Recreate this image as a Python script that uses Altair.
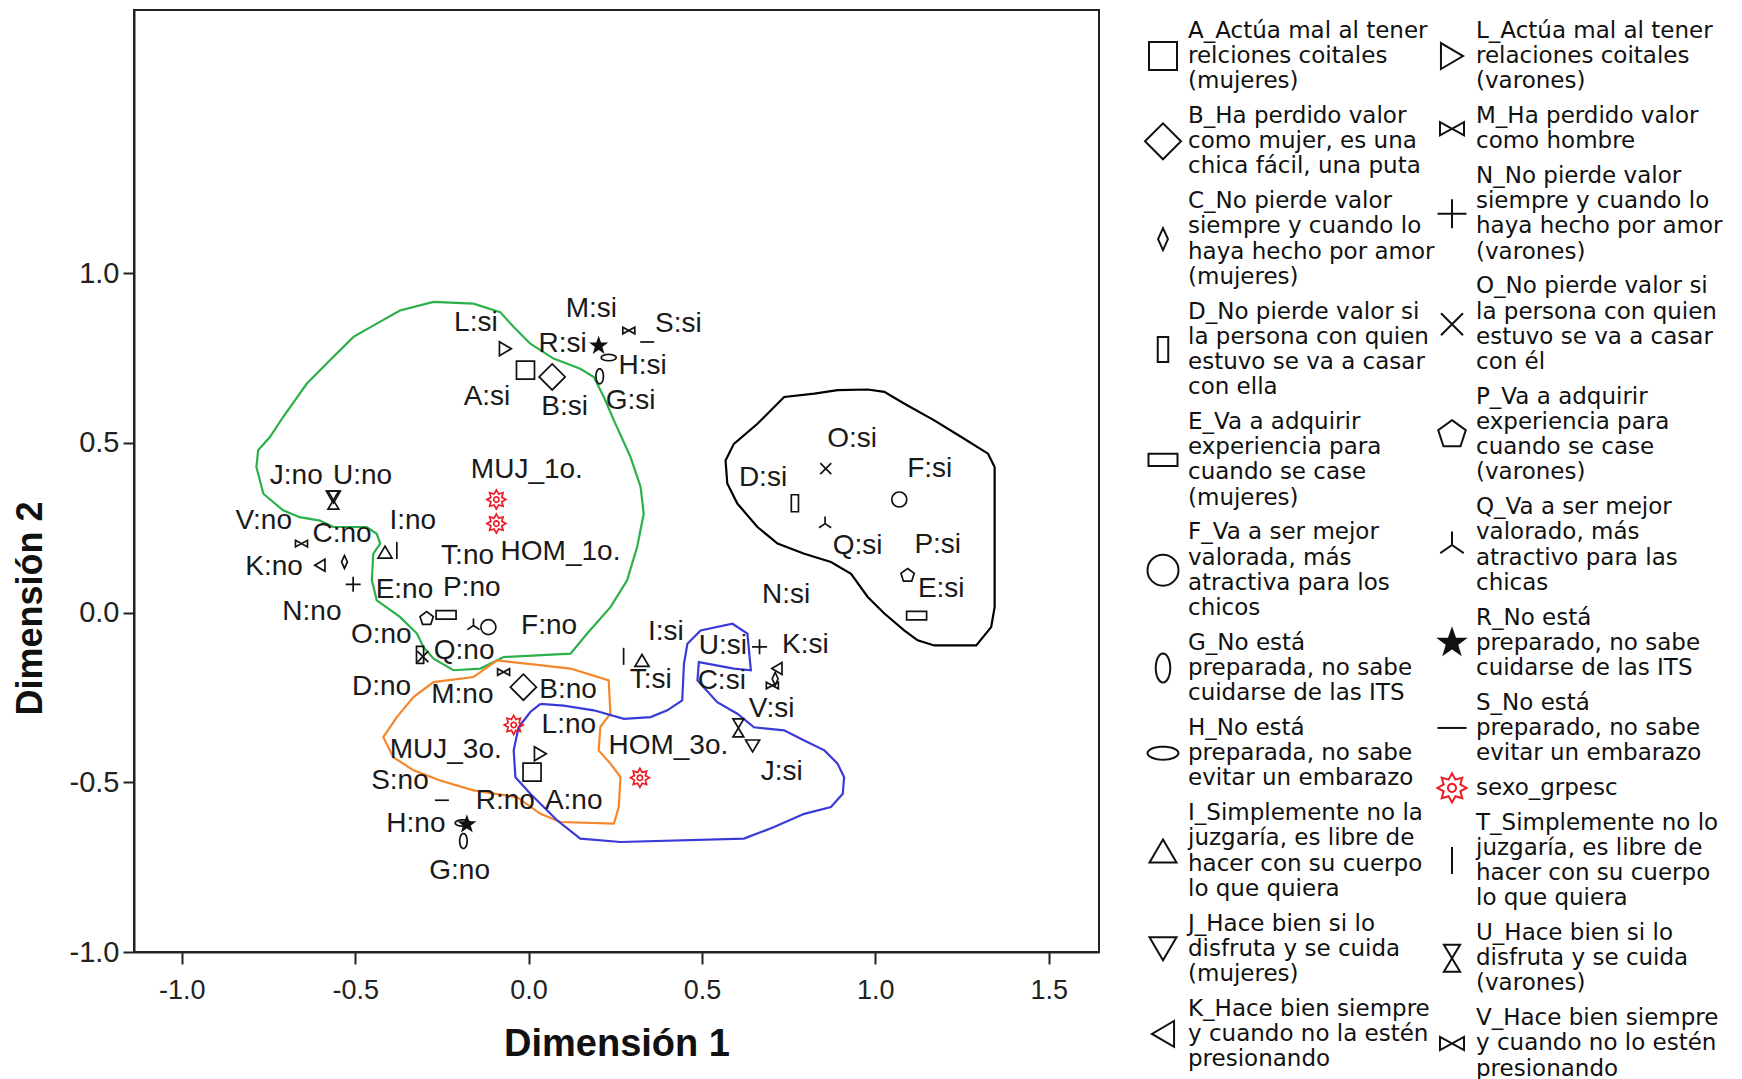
import math
import altair as alt
import pandas as pd

# ---------------- data ----------------
codes = ["A", "B", "C", "D", "E", "F", "G", "H", "I", "J", "K",
         "L", "M", "N", "O", "P", "Q", "R", "S", "T", "U", "V"]

si_x = [-0.009, 0.068, 0.711, 0.768, 1.119, 1.069, 0.205, 0.231, 0.327, 0.646, 0.716,
        -0.067, 0.289, 0.666, 0.857, 1.093, 0.855, 0.202, 0.342, 0.274, 0.605, 0.703]
si_y = [0.714, 0.694, -0.195, 0.322, -0.009, 0.333, 0.696, 0.751, -0.141, -0.393, -0.165,
        0.777, 0.831, -0.101, 0.424, 0.109, 0.262, 0.786, 0.797, -0.129, -0.340, -0.215]
no_x = [0.010, -0.015, -0.531, -0.313, -0.238, -0.116, -0.188, -0.190, -0.414, -0.563, -0.602,
        0.034, -0.072, -0.506, -0.305, -0.294, -0.159, -0.178, -0.250, -0.380, -0.563, -0.655]
no_y = [-0.470, -0.220, 0.149, -0.125, -0.007, -0.043, -0.673, -0.620, 0.178, 0.340, 0.139,
        -0.416, -0.175, 0.083, -0.130, -0.018, -0.038, -0.624, -0.553, 0.183, 0.331, 0.203]

si_lx = [-0.120, 0.104, 0.557, 0.676, 1.190, 1.157, 0.294, 0.329, 0.396, 0.730, 0.798,
         -0.152, 0.181, 0.743, 0.933, 1.180, 0.949, 0.098, 0.432, 0.352, 0.560, 0.701]
si_ly = [0.635, 0.606, -0.203, 0.396, 0.069, 0.422, 0.622, 0.727, -0.056, -0.471, -0.095,
         0.854, 0.894, 0.052, 0.511, 0.200, 0.196, 0.792, 0.851, -0.200, -0.098, -0.285]
no_lx = [0.130, 0.114, -0.538, -0.424, -0.358, 0.059, -0.199, -0.325, -0.334, -0.670, -0.734,
         0.116, -0.191, -0.625, -0.425, -0.164, -0.186, -0.067, -0.371, -0.176, -0.479, -0.764]
no_ly = [-0.556, -0.228, 0.232, -0.220, 0.065, -0.041, -0.760, -0.622, 0.270, 0.403, 0.134,
         -0.332, -0.243, 0.002, -0.066, 0.071, -0.114, -0.556, -0.497, 0.167, 0.403, 0.270]

grp_names = ["MUJ_1o.", "HOM_1o.", "MUJ_3o.", "HOM_3o."]
grp_x = [-0.093, -0.093, -0.043, 0.321]
grp_y = [0.333, 0.262, -0.331, -0.487]
grp_lx = [-0.005, 0.092, -0.239, 0.403]
grp_ly = [0.420, 0.177, -0.406, -0.393]

green_x = [-0.274, -0.159, -0.082, -0.043, 0.005, 0.072, 0.149, 0.188, 0.217, 0.246, 0.294, 0.323,
           0.332, 0.313, 0.284, 0.236, 0.169, 0.121, -0.072, -0.139, -0.217, -0.274, -0.303,
           -0.322, -0.371, -0.438, -0.452, -0.448, -0.428, -0.438, -0.467, -0.563, -0.602,
           -0.660, -0.708, -0.765, -0.785, -0.780, -0.746, -0.708, -0.640, -0.573, -0.505,
           -0.438, -0.371]
green_y = [0.915, 0.910, 0.885, 0.841, 0.792, 0.748, 0.718, 0.694, 0.635, 0.566, 0.458, 0.370,
           0.291, 0.193, 0.095, 0.016, -0.062, -0.121, -0.131, -0.165, -0.170, -0.136, -0.102,
           -0.062, -0.013, 0.036, 0.095, 0.173, 0.203, 0.232, 0.252, 0.252, 0.271,
           0.281, 0.301, 0.350, 0.429, 0.478, 0.517, 0.576, 0.674, 0.743, 0.812,
           0.851, 0.890]

orange_x = [-0.091, 0.121, 0.231, 0.236, 0.207, 0.202, 0.236, 0.265, 0.260, 0.246, 0.092, 0.034,
            -0.033, -0.159, -0.255, -0.332, -0.390, -0.419, -0.380, -0.332, -0.274, -0.159]
orange_y = [-0.141, -0.165, -0.200, -0.298, -0.337, -0.406, -0.445, -0.485, -0.573, -0.622,
            -0.617, -0.593, -0.544, -0.524, -0.495, -0.465, -0.426, -0.367, -0.308, -0.249,
            -0.205, -0.190]

blue_x = [0.034, 0.101, 0.188, 0.275, 0.352, 0.400, 0.443, 0.448, 0.458, 0.496, 0.588, 0.631,
          0.641, 0.592, 0.491, 0.487, 0.544, 0.602, 0.650, 0.737, 0.795, 0.853, 0.891, 0.910,
          0.906, 0.872, 0.795, 0.708, 0.621, 0.265, 0.149, 0.082, 0.005, -0.038, -0.043,
          -0.029, 0.005]
blue_y = [-0.269, -0.274, -0.288, -0.313, -0.308, -0.288, -0.259, -0.151, -0.092, -0.053, -0.033,
          -0.062, -0.170, -0.165, -0.146, -0.200, -0.264, -0.298, -0.338, -0.347, -0.377, -0.406,
          -0.445, -0.485, -0.534, -0.573, -0.593, -0.632, -0.666, -0.676, -0.666, -0.612,
          -0.534, -0.485, -0.406, -0.338, -0.293]

black_x = [0.824, 0.891, 0.978, 1.026, 1.084, 1.170, 1.248, 1.325, 1.344, 1.344, 1.334, 1.291,
           1.170, 1.122, 1.084, 1.026, 0.978, 0.930, 0.872, 0.795, 0.718, 0.660, 0.602, 0.573,
           0.568, 0.592, 0.660, 0.737]
black_y = [0.645, 0.655, 0.657, 0.650, 0.615, 0.566, 0.517, 0.468, 0.429, 0.016, -0.043, -0.097,
           -0.097, -0.082, -0.053, -0.003, 0.046, 0.114, 0.149, 0.173, 0.203, 0.252, 0.321, 0.380,
           0.448, 0.497, 0.556, 0.635]

legend_left = [
    ("A", ["A_Actúa mal al tener", "relciones coitales", "(mujeres)"]),
    ("B", ["B_Ha perdido valor", "como mujer, es una", "chica fácil, una puta"]),
    ("C", ["C_No pierde valor", "siempre y cuando lo", "haya hecho por amor", "(mujeres)"]),
    ("D", ["D_No pierde valor si", "la persona con quien", "estuvo se va a casar", "con ella"]),
    ("E", ["E_Va a adquirir", "experiencia para", "cuando se case", "(mujeres)"]),
    ("F", ["F_Va a ser mejor", "valorada, más", "atractiva para los", "chicos"]),
    ("G", ["G_No está", "preparada, no sabe", "cuidarse de las ITS"]),
    ("H", ["H_No está", "preparada, no sabe", "evitar un embarazo"]),
    ("I", ["I_Simplemente no la", "juzgaría, es libre de", "hacer con su cuerpo", "lo que quiera"]),
    ("J", ["J_Hace bien si lo", "disfruta y se cuida", "(mujeres)"]),
    ("K", ["K_Hace bien siempre", "y cuando no la estén", "presionando"]),
]
legend_right = [
    ("L", ["L_Actúa mal al tener", "relaciones coitales", "(varones)"]),
    ("M", ["M_Ha perdido valor", "como hombre"]),
    ("N", ["N_No pierde valor", "siempre y cuando lo", "haya hecho por amor", "(varones)"]),
    ("O", ["O_No pierde valor si", "la persona con quien", "estuvo se va a casar", "con él"]),
    ("P", ["P_Va a adquirir", "experiencia para", "cuando se case", "(varones)"]),
    ("Q", ["Q_Va a ser mejor", "valorado, más", "atractivo para las", "chicas"]),
    ("R", ["R_No está", "preparado, no sabe", "cuidarse de las ITS"]),
    ("S", ["S_No está", "preparado, no sabe", "evitar un embarazo"]),
    ("grp", ["sexo_grpesc"]),
    ("T", ["T_Simplemente no lo", "juzgaría, es libre de", "hacer con su cuerpo", "lo que quiera"]),
    ("U", ["U_Hace bien si lo", "disfruta y se cuida", "(varones)"]),
    ("V", ["V_Hace bien siempre", "y cuando no lo estén", "presionando"]),
]

# ---------------- symbol styles ----------------
def poly(pts):
    return "M" + "L".join(f"{x:.3f},{y:.3f}" for x, y in pts) + "Z"

def ellipse(rx, ry, n=32):
    return poly([(rx * math.cos(2 * math.pi * k / n), ry * math.sin(2 * math.pi * k / n)) for k in range(n)])

def star(n, r_in):
    pts = []
    for k in range(2 * n):
        r = 1.0 if k % 2 == 0 else r_in
        a = math.radians(-90 + 180.0 / n * k)
        pts.append((r * math.cos(a), r * math.sin(a)))
    return poly(pts)

PENTAGON = poly([(math.cos(math.radians(-90 + 72 * k)), math.sin(math.radians(-90 + 72 * k)))
                 for k in range(5)])
BURST = star(8, 0.62) + ellipse(0.28, 0.28, 16)
INK = "#111111"
RED = "#ee1c25"

# code: (path, legend px, plot px, filled, colour)
SYM = {
    "A": ("M-1,-1L1,-1L1,1L-1,1Z", 28, 18, False, INK),
    "B": ("M-1,0L0,-1L1,0L0,1Z", 36, 26, False, INK),
    "C": ("M-0.45,0L0,-1L0.45,0L0,1Z", 22, 13, False, INK),
    "D": ("M-0.42,-1L0.42,-1L0.42,1L-0.42,1Z", 25, 17, False, INK),
    "E": ("M-1,-0.42L1,-0.42L1,0.42L-1,0.42Z", 29, 20, False, INK),
    "F": ("circle", 31, 15, False, INK),
    "G": (ellipse(0.5, 1.0), 29, 15, False, INK),
    "H": (ellipse(1.0, 0.42), 31, 15, False, INK),
    "I": ("M0,-0.85L1,0.85L-1,0.85Z", 27, 14, False, INK),
    "J": ("M-1,-0.85L1,-0.85L0,0.85Z", 27, 14, False, INK),
    "K": ("M0.85,-1L0.85,1L-0.85,0Z", 26, 12, False, INK),
    "L": ("M-0.85,-1L-0.85,1L0.85,0Z", 26, 14, False, INK),
    "M": ("M-1,-0.55L1,0.55L1,-0.55L-1,0.55Z", 24, 12, False, INK),
    "N": ("M-1,0L1,0M0,-1L0,1", 29, 15, False, INK),
    "O": ("M-1,-1L1,1M-1,1L1,-1", 22, 11, False, INK),
    "P": (PENTAGON, 29, 14, False, INK),
    "Q": ("M0,0L0,-1M0,0L-0.87,0.6M0,0L0.87,0.6", 27, 14, False, INK),
    "R": (star(5, 0.4), 27, 15, True, INK),
    "S": ("M-1,0L1,0", 29, 14, False, INK),
    "T": ("M0,-1L0,1", 27, 17, False, INK),
    "U": ("M-0.6,-1L0.6,-1L-0.6,1L0.6,1Z", 27, 18, False, INK),
    "V": ("M-1,-0.55L1,0.55L1,-0.55L-1,0.55Z", 24, 12, False, INK),
    "grp": (BURST, 29, 19, False, RED),
}

# ---------------- tables ----------------
pts_rows, lab_rows = [], []
for i, c in enumerate(codes):
    path, _, px, filled, col = SYM[c]
    for xs_, ys_, lxs_, lys_, suf in ((si_x, si_y, si_lx, si_ly, "si"), (no_x, no_y, no_lx, no_ly, "no")):
        pts_rows.append({"x": xs_[i], "y": ys_[i], "shape": path, "size": px * px,
                         "fill": col if filled else "transparent", "stroke": col})
        lab_rows.append({"x": lxs_[i], "y": lys_[i], "t": f"{c}:{suf}"})
for i, g in enumerate(grp_names):
    path, _, px, filled, col = SYM["grp"]
    pts_rows.append({"x": grp_x[i], "y": grp_y[i], "shape": path, "size": px * px,
                     "fill": "transparent", "stroke": col})
    lab_rows.append({"x": grp_lx[i], "y": grp_ly[i], "t": g})
pts_df = pd.DataFrame(pts_rows)
lab_df = pd.DataFrame(lab_rows)

cont_rows = []
for name, cx, cy in (("green", green_x, green_y), ("orange", orange_x, orange_y),
                     ("blue", blue_x, blue_y), ("black", black_x, black_y)):
    n = len(cx)
    for k in range(n + 1):
        cont_rows.append({"g": name, "o": k, "x": cx[k % n], "y": cy[k % n]})
cont_df = pd.DataFrame(cont_rows)

# legend layout (in "line" units)
GAP = 0.38
SYM_X = [33, 322]
TXT_X = [58, 346]
leg_sym, leg_txt = [], []
for col, items in enumerate((legend_left, legend_right)):
    pos = 0.0
    for key, lines in items:
        ys_l = []
        for ln in lines:
            leg_txt.append({"x": TXT_X[col], "y": pos, "t": ln})
            ys_l.append(pos)
            pos += 1
        path, lpx, _, filled, colr = SYM[key]
        leg_sym.append({"x": SYM_X[col], "y": sum(ys_l) / len(ys_l), "shape": path, "size": lpx * lpx,
                        "fill": colr if filled else "transparent", "stroke": colr})
        pos += GAP
leg_sym_df = pd.DataFrame(leg_sym)
leg_txt_df = pd.DataFrame(leg_txt)

# ---------------- chart ----------------
W, H = 965, 942
xs = alt.Scale(domain=[-1.138, 1.645], nice=False, zero=False)
ys = alt.Scale(domain=[-1.0, 1.775], nice=False, zero=False)
lab_expr = "datum.value < 0 ? '-' + format(-datum.value, '.1f') : format(datum.value, '.1f')"
x_axis = alt.Axis(values=[-1.0, -0.5, 0.0, 0.5, 1.0, 1.5], labelExpr=lab_expr, grid=False,
                  tickSize=12, tickWidth=2, tickColor="#222222", domainColor="#222222", domainWidth=2,
                  labelFont="Liberation Sans", labelFontSize=27, labelColor="#222222", labelPadding=13,
                  title="Dimensión 1", titleFont="Liberation Sans", titleFontSize=38,
                  titleFontWeight="bold", titleColor="#111111", titlePadding=22)
y_axis = alt.Axis(values=[-1.0, -0.5, 0.0, 0.5, 1.0], labelExpr=lab_expr, grid=False,
                  tickSize=11, tickWidth=2, tickColor="#222222", domainColor="#222222", domainWidth=2,
                  labelFont="Liberation Sans", labelFontSize=29, labelColor="#222222", labelPadding=4,
                  title="Dimensión 2", titleFont="Liberation Sans", titleFontSize=36,
                  titleFontWeight="bold", titleColor="#111111", titlePadding=20, titleY=598)

contours = alt.Chart(cont_df).mark_line(strokeWidth=2.2, clip=True).encode(
    x=alt.X("x:Q", scale=xs, axis=x_axis),
    y=alt.Y("y:Q", scale=ys, axis=y_axis),
    color=alt.Color("g:N", scale=alt.Scale(domain=["green", "orange", "blue", "black"],
                                           range=["#2bb04a", "#f5862a", "#3a3ad8", "#000000"]),
                    legend=None),
    order="o:Q",
)
points = alt.Chart(pts_df).mark_point(strokeWidth=1.7, opacity=1).encode(
    x="x:Q", y="y:Q",
    shape=alt.Shape("shape:N", scale=None),
    size=alt.Size("size:Q", scale=None),
    fill=alt.Fill("fill:N", scale=None),
    stroke=alt.Stroke("stroke:N", scale=None),
)
labels = alt.Chart(lab_df).mark_text(font="Liberation Sans", fontSize=28, color="#1a1a1a",
                                     align="center", baseline="middle").encode(
    x="x:Q", y="y:Q", text="t:N")

plot = alt.layer(contours, points, labels).properties(
    width=W, height=H, view=alt.ViewBackground(stroke="#222222", strokeWidth=2))

LH = 1070
lxs = alt.Scale(domain=[0, 612], nice=False, zero=False)
lys = alt.Scale(domain=[-0.83, -0.83 + LH / 25.2], nice=False, zero=False, reverse=True)
leg_symbols = alt.Chart(leg_sym_df).mark_point(strokeWidth=2.0, opacity=1).encode(
    x=alt.X("x:Q", scale=lxs, axis=None),
    y=alt.Y("y:Q", scale=lys, axis=None),
    shape=alt.Shape("shape:N", scale=None),
    size=alt.Size("size:Q", scale=None),
    fill=alt.Fill("fill:N", scale=None),
    stroke=alt.Stroke("stroke:N", scale=None),
)
leg_text = alt.Chart(leg_txt_df).mark_text(font="DejaVu Sans", fontSize=23, color="#111111",
                                           align="left", baseline="middle").encode(
    x=alt.X("x:Q", scale=lxs, axis=None),
    y=alt.Y("y:Q", scale=lys, axis=None),
    text="t:N")
legend = alt.layer(leg_symbols, leg_text).properties(
    width=612, height=LH, view=alt.ViewBackground(stroke="transparent", strokeWidth=0))

chart = alt.hconcat(plot, legend, spacing=30).properties(
    padding={"left": 11, "top": 9, "right": 0, "bottom": 0},
    background="white",
).configure_view(strokeWidth=0)

chart.save("out.html", embed_options={"renderer": "svg", "actions": False})
